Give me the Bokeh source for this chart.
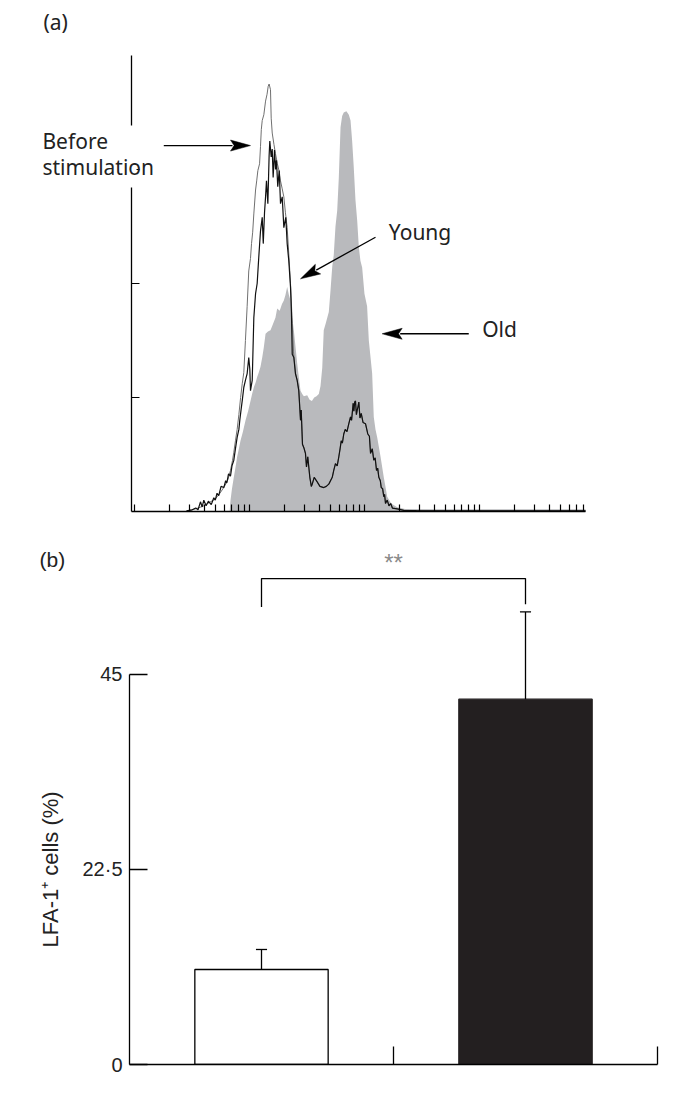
import numpy as np
from bokeh.plotting import figure
from bokeh.layouts import column
from bokeh.models import FixedTicker, Label, Range1d, BoxAnnotation, Title
from bokeh.embed import file_html
from bokeh.resources import INLINE

# ---------------- Panel (a): flow cytometry histograms ----------------
# x = log10 fluorescence intensity (4-decade log scale), y = cell count (arbitrary)
before_logfl = [0.45, 0.499, 0.55, 0.60, 0.65, 0.70, 0.74, 0.78, 0.81, 0.832, 0.85, 0.861, 0.875, 0.89,
                0.905, 0.92, 0.934, 0.948, 0.962, 0.977, 0.991, 1.006, 1.015, 1.025, 1.035, 1.050, 1.060,
                1.070, 1.085, 1.093, 1.100, 1.108, 1.122, 1.137, 1.150, 1.160, 1.168, 1.180, 1.186, 1.195,
                1.210, 1.223, 1.240, 1.256, 1.267, 1.282, 1.296, 1.310, 1.325, 1.339, 1.354, 1.362, 1.369,
                1.380, 1.397, 1.412, 1.426, 1.441, 1.447, 1.458, 1.470, 1.484, 1.493, 1.504, 1.522, 1.535,
                1.543, 1.560, 1.586, 1.610, 1.643, 1.665, 1.687, 1.717, 1.730, 1.745, 1.760, 1.774, 1.785,
                1.795, 1.805, 1.817, 1.830, 1.845, 1.861, 1.876, 1.885, 1.899, 1.905, 1.912, 1.919, 1.927,
                1.934, 1.941, 1.948, 1.958, 1.969, 1.985, 2.006, 2.026, 2.040, 2.050, 2.065, 2.078, 2.090,
                2.102, 2.112, 2.122, 2.135, 2.143, 2.155, 2.165, 2.172, 2.180, 2.195, 2.210, 2.225, 2.240,
                2.282, 2.339, 2.450, 3.000, 3.919]
before_count = [0.5, 1.5, 3, 5, 8, 11, 16, 22, 28, 36, 45, 52, 62, 72,
                85, 100, 112, 122, 150, 180, 211, 222, 235, 245, 261, 282, 290,
                299, 305, 320, 335, 343, 348, 360, 366, 373, 375, 370, 345, 332,
                322, 314, 305, 298, 290, 283, 276, 262, 249, 226, 200, 182, 165,
                140, 121, 115, 106, 80, 89, 59, 56, 51, 39, 48, 30, 22,
                24, 30, 26, 22, 21, 22, 24, 30, 36, 42, 40, 48, 55,
                62, 60, 68, 72, 70, 77, 83, 80, 95, 88, 96, 97, 85,
                89, 92, 96, 82, 86, 78, 77, 68, 66, 51, 55, 45, 47,
                36, 38, 30, 27, 21, 20, 13, 15, 7, 10, 5, 7, 3,
                2.3, 1.0, 0.8, 0.6, 0.6]

young_logfl = [0.45, 0.499, 0.53, 0.55, 0.571, 0.586, 0.60, 0.62, 0.64, 0.665, 0.687, 0.70, 0.715, 0.730,
               0.75, 0.774, 0.79, 0.80, 0.815, 0.832, 0.845, 0.861, 0.875, 0.890, 0.905, 0.913, 0.925,
               0.934, 0.948, 0.962, 0.977, 0.991, 1.000, 1.006, 1.021, 1.035, 1.050, 1.064, 1.078, 1.093,
               1.108, 1.117, 1.128, 1.137, 1.145, 1.157, 1.168, 1.174, 1.186, 1.195, 1.203, 1.215, 1.224,
               1.232, 1.243, 1.256, 1.267, 1.282, 1.296, 1.313, 1.325, 1.339, 1.354, 1.362, 1.369, 1.383,
               1.397, 1.412, 1.426, 1.441, 1.447, 1.458, 1.470, 1.484, 1.493, 1.504, 1.522, 1.535, 1.543,
               1.560, 1.586, 1.610, 1.643, 1.665, 1.687, 1.717, 1.730, 1.745, 1.760, 1.774, 1.785, 1.795,
               1.805, 1.817, 1.830, 1.845, 1.861, 1.876, 1.885, 1.899, 1.905, 1.912, 1.919, 1.927, 1.934,
               1.941, 1.948, 1.958, 1.969, 1.985, 2.006, 2.026, 2.040, 2.050, 2.065, 2.078, 2.090, 2.102,
               2.112, 2.122, 2.135, 2.143, 2.155, 2.165, 2.172, 2.180, 2.195, 2.210, 2.225, 2.240, 2.282,
               2.339, 2.450, 3.000, 3.919]
young_count = [0.5, 1.5, 3, 1.5, 8.5, 4, 10, 5, 9, 6, 12, 10, 16, 14,
               22, 21, 27, 25, 33, 31, 40, 45, 55, 65, 72, 80, 90,
               97, 109, 115, 121, 135, 125, 106, 115, 170, 191, 200, 223, 246,
               258, 235, 262, 276, 290, 270, 312, 325, 311, 318, 293, 317, 300,
               308, 285, 299, 270, 276, 249, 258, 235, 220, 197, 175, 138, 135,
               121, 115, 106, 80, 89, 59, 56, 51, 39, 48, 30, 22, 24,
               30, 26, 22, 21, 22, 24, 30, 36, 42, 40, 48, 55, 62,
               60, 68, 72, 70, 77, 83, 80, 95, 88, 96, 97, 85, 89,
               92, 96, 82, 86, 78, 77, 68, 66, 51, 55, 45, 47, 36,
               38, 30, 27, 21, 20, 13, 15, 7, 10, 5, 7, 3, 2.3,
               1.0, 0.8, 0.6, 0.6]

old_logfl = [0.825, 0.832, 0.845, 0.861, 0.876, 0.890, 0.905, 0.919, 0.940, 0.963, 0.985, 1.006, 1.020,
             1.035, 1.050, 1.064, 1.078, 1.093, 1.108, 1.122, 1.137, 1.158, 1.180, 1.200, 1.223, 1.238,
             1.260, 1.280, 1.296, 1.310, 1.325, 1.340, 1.354, 1.369, 1.383, 1.397, 1.412, 1.426, 1.441,
             1.456, 1.470, 1.499, 1.520, 1.540, 1.560, 1.580, 1.600, 1.615, 1.630, 1.643, 1.660, 1.687,
             1.702, 1.717, 1.730, 1.745, 1.760, 1.774, 1.789, 1.803, 1.817, 1.840, 1.861, 1.876, 1.890,
             1.904, 1.919, 1.934, 1.948, 1.962, 1.977, 1.997, 2.020, 2.035, 2.050, 2.064, 2.078, 2.093,
             2.108, 2.137, 2.165, 2.195, 2.230, 2.282, 2.350, 2.600, 3.919]
old_count = [0, 9.6, 20, 30, 39, 48, 55, 62, 70, 80, 88, 97, 103,
             109, 113, 118, 122, 127, 135, 144, 156, 158, 159, 164, 170, 178,
             176, 182, 185, 190, 197, 190, 185, 170, 159, 145, 130, 118, 106,
             103, 101, 102, 98, 97, 100, 101, 103, 110, 126, 159, 165, 175,
             194, 215, 225, 250, 264, 293, 337, 347, 350, 351, 348, 343, 325,
             302, 273, 255, 232, 220, 214, 191, 180, 150, 135, 121, 83, 72,
             65, 48, 30, 13, 7, 3.8, 2.2, 2.0, 2.0]

hist_axis_span = (-0.029, 3.919)   # log10 span of the fluorescence axis
hist_count_span = (0, 400)
hist_yticks = [100, 200, 300]
hist_decades = [0, 1, 2, 3]

# ---------------- Panel (b): LFA-1+ cells ----------------
groups = [1, 2]                  # young, old
lfa1_pct = [10.96, 42.15]
lfa1_err = [2.31, 10.07]
bar_fill = ["white", "#231f20"]
bar_line = ["black", "#231f20"]
bar_yticks = [0, 22.5, 45]
bar_ytick_labels = {0: "0", 22.5: "22·5", 45: "45"}
bar_xticks = [1.5, 2.5]
signif_text = "**"
ylabel_b = "LFA-1⁺ cells (%)"

FONT_A = "Noto Sans"
FONT_B = "Liberation Sans"
TXT = "#222222"

# ======================= figure (a) =======================
# frame spans canvas px 20..600 (x) and 10..575 (y); 115 px per decade, 1.14 px per count
FW_A, FH_A = 580, 565
pa = figure(frame_width=FW_A, frame_height=FH_A, min_border_left=20, min_border_right=60,
            min_border_top=10, min_border_bottom=0, output_backend="svg", toolbar_location=None,
            x_range=Range1d(-0.99391, 4.04957), y_range=Range1d(-56.14, 439.474))
pa.outline_line_color = None
pa.grid.visible = False

minor = [d + np.log10(k) for d in hist_decades for k in range(2, 10)
         if d + np.log10(k) <= hist_axis_span[1]]
pa.xaxis.ticker = FixedTicker(ticks=hist_decades, minor_ticks=minor)
pa.yaxis.ticker = FixedTicker(ticks=hist_yticks, minor_ticks=[])
pa.xaxis.fixed_location = 0
pa.xaxis.bounds = hist_axis_span
pa.yaxis.fixed_location = hist_axis_span[0]
pa.yaxis.bounds = hist_count_span
for ax in (pa.xaxis[0], pa.yaxis[0]):
    ax.axis_line_width = 1.3
    ax.axis_line_color = "black"
    ax.major_tick_line_width = 1.2
    ax.minor_tick_line_width = 1.2
    ax.major_tick_line_color = "black"
    ax.minor_tick_line_color = "black"
    ax.major_tick_out = 0
    ax.minor_tick_out = 0
    ax.major_label_text_font_size = "0px"
    ax.major_label_text_color = None
    ax.major_label_standoff = 0
pa.xaxis.major_tick_in = 7
pa.xaxis.minor_tick_in = 7
pa.yaxis.major_tick_in = 8
pa.yaxis.minor_tick_in = 0

pa.varea(x=old_logfl, y1=0, y2=old_count, fill_color="#b9babd")
pa.line(before_logfl, before_count, line_color="#707070", line_width=1.0)
pa.line(young_logfl, young_count, line_color="#111111", line_width=1.2)

SXA = 115.0
SYA = 1.14


def add_arrow(p, x0, y0, x1, y1, sx, sy, L=20.0, W=11.0, notch=0.82):
    dx, dy = (x1 - x0) * sx, (y1 - y0) * sy
    n = (dx * dx + dy * dy) ** 0.5
    ux, uy = dx / n, dy / n
    qx, qy = -uy, ux
    pts = [(0.0, 0.0),
           (-L * ux + W / 2 * qx, -L * uy + W / 2 * qy),
           (-notch * L * ux, -notch * L * uy),
           (-L * ux - W / 2 * qx, -L * uy - W / 2 * qy)]
    xs = [x1 + a / sx for a, b in pts]
    ys = [y1 + b / sy for a, b in pts]
    p.segment(x0=[x0], y0=[y0], x1=[x1 - 0.9 * L * ux / sx], y1=[y1 - 0.9 * L * uy / sy],
              line_color="black", line_width=1.3)
    p.patch(xs, ys, fill_color="black", line_color="black", line_width=0.5)


add_arrow(pa, 0.252, 321, 1.006, 321, SXA, SYA)      # before stimulation
add_arrow(pa, 2.093, 240.6, 1.441, 204.1, SXA, SYA)  # young
add_arrow(pa, 2.904, 155.9, 2.151, 155.9, SXA, SYA)  # old

# white knock-out where the "Before stimulation" text crosses the y axis
pa.add_layout(BoxAnnotation(left=-0.0722, right=0.0148, bottom=284.2, top=338.6,
                            fill_color="white", fill_alpha=1.0, line_color=None))


def lab(p, x, y, t, size, font=FONT_A, align="left", color=TXT):
    p.add_layout(Label(x=x, y=y, text=t, text_font=font, text_font_size=size, text_color=color,
                       text_align=align, text_baseline="alphabetic"))


lab(pa, -0.794, 429.8, "(a)", "21px")
lab(pa, -0.803, 324.6, "Before", "21px")
lab(pa, -0.803, 301.8, "stimulation", "21px")
lab(pa, 2.209, 245.6, "Young", "21px")
lab(pa, 3.021, 159.9, "Old", "21px")
# panel (b) caption and significance mark (they sit just above panel b's frame)
lab(pa, -0.829, -42.1, "(b)", "21px", font=FONT_B)
lab(pa, 2.2496, -44.3, signif_text, "24px", font=FONT_B, align="center", color="#8a8a8a")

# ======================= figure (b) =======================
# frame spans canvas px 129..657 (x) and 575..1064 (y); 8.667 px per percent
FW_B, FH_B = 528, 489
pb = figure(frame_width=FW_B, frame_height=FH_B, min_border_left=129, min_border_right=3,
            min_border_top=0, min_border_bottom=20, output_backend="svg", toolbar_location=None,
            x_range=Range1d(0.5, 2.5), y_range=Range1d(0, 56.42))
pb.outline_line_color = None
pb.grid.visible = False

for p in (pa, pb):
    try:
        p.frame_align = False
    except Exception:
        pass

pb.yaxis.ticker = FixedTicker(ticks=bar_yticks, minor_ticks=[])
pb.yaxis.major_label_overrides = bar_ytick_labels
pb.yaxis.bounds = (0, 45)
pb.xaxis.ticker = FixedTicker(ticks=bar_xticks, minor_ticks=[])
pb.xaxis.bounds = (0.5, 2.5)
for ax in (pb.xaxis[0], pb.yaxis[0]):
    ax.axis_line_width = 1.3
    ax.axis_line_color = "black"
    ax.major_tick_line_width = 1.3
    ax.major_tick_line_color = "black"
    ax.major_tick_out = 0
    ax.major_tick_in = 18
    ax.minor_tick_line_color = None
pb.xaxis.major_label_text_font_size = "0px"
pb.xaxis.major_label_text_color = None
pb.yaxis.major_label_text_font = FONT_B
pb.yaxis.major_label_text_font_size = "20px"
pb.yaxis.major_label_text_color = TXT
pb.yaxis.major_label_standoff = 7

pb.add_layout(Title(text=ylabel_b, align="left", offset=117, standoff=34, text_font=FONT_B,
                    text_font_size="22px", text_font_style="normal", text_color=TXT), "left")

pb.vbar(x=groups, top=lfa1_pct, width=0.505, bottom=0, fill_color=bar_fill, line_color=bar_line,
        line_width=1.3)
err_top = [v + e for v, e in zip(lfa1_pct, lfa1_err)]
pb.segment(x0=groups, y0=lfa1_pct, x1=groups, y1=err_top, line_color="black", line_width=1.3)
pb.segment(x0=[g - 0.021 for g in groups], y0=err_top, x1=[g + 0.021 for g in groups], y1=err_top,
           line_color="black", line_width=1.3)

# significance bracket
pb.multi_line(xs=[[groups[0], groups[0], groups[1], groups[1]]], ys=[[52.8, 56.07, 56.07, 53.1]],
              line_color="black", line_width=1.3)

layout = column(pa, pb)
open("out.html", "w").write(file_html(layout, INLINE))
